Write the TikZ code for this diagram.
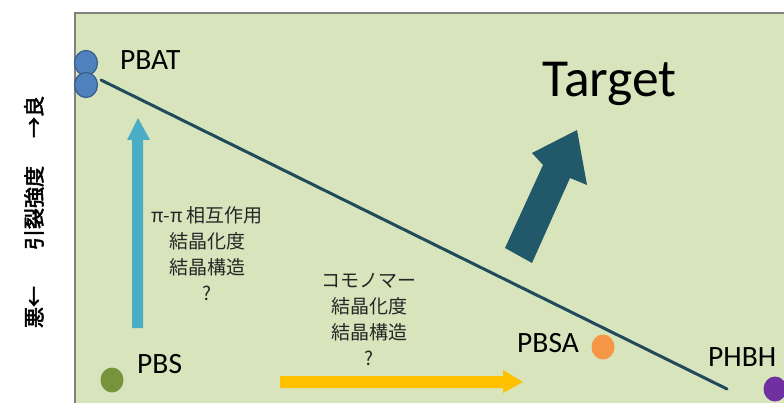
\documentclass[tikz,border=0pt]{standalone}
\usepackage{fontspec}
\setmainfont{Carlito}
\newfontfamily\cjk{Noto Sans CJK JP}
\newfontfamily\cjkb[FakeBold=2.5]{Noto Sans CJK JP}
\usetikzlibrary{shapes.geometric}
\definecolor{panel}{RGB}{216,228,188}
\definecolor{frame}{RGB}{128,128,128}
\definecolor{pbat}{RGB}{79,129,189}
\definecolor{pbatb}{RGB}{56,93,138}
\definecolor{pbs}{RGB}{119,147,60}
\definecolor{pbsa}{RGB}{247,150,70}
\definecolor{phbh}{RGB}{112,48,160}
\definecolor{trend}{RGB}{33,74,92}
\definecolor{bigarrow}{RGB}{33,89,106}
\definecolor{blueup}{RGB}{75,172,198}
\definecolor{orangeright}{RGB}{255,192,0}
\tikzset{
  dot/.style={ellipse, minimum width=23pt, minimum height=25pt, inner sep=0pt},
  lbl/.style={font=\fontsize{29.5}{30}\selectfont, text=black, inner sep=0pt},
  jtxt/.style={font=\cjk\fontsize{19}{26}\selectfont, align=center, text=black!85, inner sep=0pt},
}
\begin{document}
\begin{tikzpicture}[x=1pt,y=-1pt]
\useasboundingbox (0,0) rectangle (784,403);
\fill[white] (0,0) rectangle (784,403);
\fill[panel] (75,13) rectangle (784,403);
\draw[frame, line width=2pt] (75,403) -- (75,13) -- (784,13);
% axis label
\node[rotate=90, font=\cjkb\fontsize{21}{22}\selectfont, inner sep=0pt] (axis) at (34,212)
  {悪←\hspace{36pt}引裂強度\hspace{28pt}→良};
% PBAT
\node[dot, fill=pbat, draw=pbatb, line width=1.2pt] (pbat1) at (86,63) {};
\node[dot, fill=pbat, draw=pbatb, line width=1.2pt] (pbat2) at (86,85) {};
\node[lbl, anchor=west] (pbatl) at (120,60) {PBAT};
% trend line
\coordinate (tstart) at (101,80);
\coordinate (tend) at (727,389);
\draw[trend, line width=3pt, line cap=round] (tstart) -- (tend);
% PBS
\node[dot, fill=pbs] (pbs) at (112,380) {};
\node[lbl, anchor=west] (pbsl) at (137,364) {PBS};
% PBSA
\node[dot, fill=pbsa] (pbsa) at (603,347) {};
\node[lbl, anchor=west] (pbsal) at (517,343) {PBSA};
% PHBH
\node[dot, fill=phbh] (phbh) at (775,389) {};
\node[lbl, anchor=west] (phbhl) at (708,357) {PHBH};
% Target
\node[font=\fontsize{53.5}{54}\selectfont, anchor=west, inner sep=0pt] (target) at (542,84) {Target};
% big arrow
\fill[bigarrow] (505,248) -- (543,165) -- (532,153) -- (577,130) -- (587,185) -- (570,178) -- (532,263) -- cycle;
% blue up arrow
\fill[blueup] (132,328) -- (132,140) -- (127,140) -- (138,118) -- (150,140) -- (143,140) -- (143,328) -- cycle;
% orange right arrow
\fill[orangeright] (280,376) -- (503,376) -- (503,370) -- (523,382) -- (503,393) -- (503,388) -- (280,388) -- cycle;
% text blocks
\node[jtxt] (t1) at (207,254) {π-π 相互作用\\結晶化度\\結晶構造\\?};
\node[jtxt] (t2) at (369,320) {コモノマー\\結晶化度\\結晶構造\\?};
\end{tikzpicture}
\end{document}
